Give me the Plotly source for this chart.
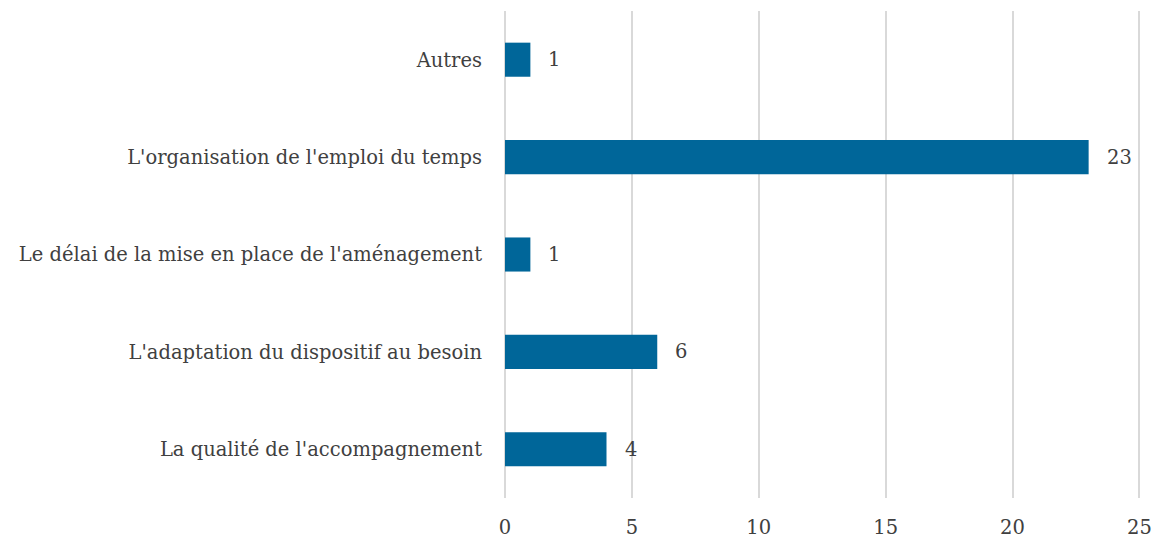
import plotly.graph_objects as go

categories = [
    "La qualité de l'accompagnement",
    "L'adaptation du dispositif au besoin",
    "Le délai de la mise en place de l'aménagement",
    "L'organisation de l'emploi du temps",
    "Autres",
]
values = [4, 6, 1, 23, 1]
x_ticks = [0, 5, 10, 15, 20, 25]

font_family = "DejaVu Serif"
text_color = "#404040"
grid_color = "#d9d9d9"
fsize = 19.5

fig = go.Figure()
fig.add_trace(go.Bar(
    y=categories,
    x=values,
    orientation="h",
    width=0.35,
    marker=dict(color="#006699", line=dict(width=0)),
    hoverinfo="x+y",
))

for c, v in zip(categories, values):
    fig.add_annotation(
        x=v, y=c, text=str(v), showarrow=False,
        xanchor="left", xshift=16,
        font=dict(family=font_family, size=fsize, color=text_color),
    )

fig.update_layout(
    width=1154, height=539,
    margin=dict(l=505, r=7, t=11, b=41),
    plot_bgcolor="white", paper_bgcolor="white",
    showlegend=False,
    font=dict(family=font_family, size=fsize, color=text_color),
    xaxis=dict(
        range=[0, 25.3], tickvals=x_ticks,
        showgrid=True, gridcolor=grid_color, gridwidth=2,
        zeroline=True, zerolinecolor=grid_color, zerolinewidth=2,
        showline=False, ticks="",
        automargin=False,
        ticklabelstandoff=15,
        tickfont=dict(family=font_family, size=fsize, color=text_color),
    ),
    yaxis=dict(
        categoryorder="array", categoryarray=categories,
        range=[-0.5, 4.5],
        showgrid=False, zeroline=False, showline=False, ticks="",
        automargin=False,
        ticklabelstandoff=22,
        tickfont=dict(family=font_family, size=fsize, color=text_color),
    ),
)

fig.write_html(
    "out.html",
    config={"displayModeBar": False},
    post_script="document.body.style.margin='0';document.body.style.overflow='hidden';",
)
